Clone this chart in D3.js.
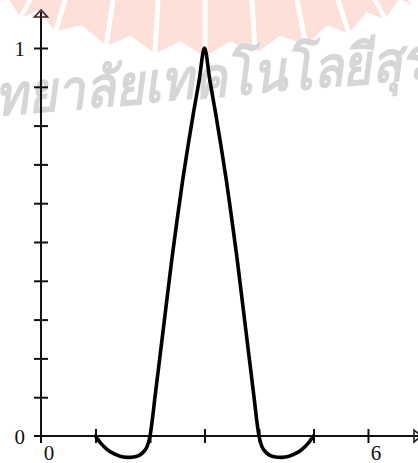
<!DOCTYPE html>
<html><head><meta charset="utf-8">
<script src="https://cdn.jsdelivr.net/npm/d3@7"></script>
<style>html,body{margin:0;padding:0;background:#fff;}svg{display:block}</style>
</head><body>
<svg id="c" width="418" height="463"></svg>
<script>
// ---- data ----
const curveX = [1.0, 1.1, 1.2, 1.3, 1.45, 1.58, 1.7, 1.8, 1.9, 1.95, 2.0,
                2.1, 2.2, 2.3, 2.4, 2.5, 2.6, 2.7, 2.8, 2.9, 3.0,
                3.1, 3.2, 3.3, 3.4, 3.5, 3.6, 3.7, 3.8, 3.9, 4.0,
                4.05, 4.1, 4.2, 4.3, 4.42, 4.55, 4.7, 4.8, 4.9, 5.0];
const curveY = [0.0, -0.019, -0.033, -0.043, -0.052, -0.055, -0.054, -0.050, -0.038, -0.026, 0.0,
                0.11, 0.225, 0.34, 0.455, 0.56, 0.66, 0.75, 0.835, 0.915, 1.0,
                0.915, 0.835, 0.75, 0.66, 0.56, 0.455, 0.34, 0.225, 0.11, 0.0,
                -0.026, -0.038, -0.050, -0.054, -0.055, -0.052, -0.043, -0.033, -0.019, 0.0];
const xTickValues = [1, 2, 3, 4, 5, 6];
const xLabelValues = [0, 6];
const xLabelTexts = ["0", "6"];
const yTickValues = [0.1, 0.2, 0.3, 0.4, 0.5, 0.6, 0.7, 0.8, 0.9, 1.0];
const yLabelValues = [0, 1];
const yLabelTexts = ["0", "1"];
const watermarkText = "ทยาลัยเทคโนโลยีสุรนารี";
// watermark ray gaps: offset from centre at top edge, slope dx/dy
const rayGapOffsets = [-210, -175, -140, -92, -47, 0, 47, 92, 133, 170, 205];
const rayGapSlopes  = [-0.8, -0.55, -0.3, -0.15, -0.06, 0, 0.06, 0.2, 0.33, 0.55, 0.8];

const svg = d3.select("#c");
const x = d3.scaleLinear().domain([0, 6]).range([41, 368]);
const y = d3.scaleLinear().domain([0, 1]).range([436, 48]);

// ---- watermark ----
const wm = svg.append("g");
const cx = 205, cy = -400, R = 455, notch = 13;
const circY = xx => cy + Math.sqrt(Math.max(0, R*R - (xx-cx)*(xx-cx)));
function edgeAt(i, off) {
  let yy = 40;
  for (let k = 0; k < 20; k++) yy = circY(cx + rayGapOffsets[i] + rayGapSlopes[i]*yy + off);
  return [cx + rayGapOffsets[i] + rayGapSlopes[i]*yy + off, yy];
}
for (let i = 0; i < rayGapOffsets.length - 1; i++) {
  const g = 2.5;
  const tl = [cx + rayGapOffsets[i] + g + rayGapSlopes[i]*(-5), -5];
  const tr = [cx + rayGapOffsets[i+1] - g + rayGapSlopes[i+1]*(-5), -5];
  const bl = edgeAt(i, g), br = edgeAt(i+1, -g);
  const mx = (bl[0]+br[0])/2;
  const mid = [mx, circY(mx) - notch];
  wm.append("path")
    .attr("d", "M" + [tl, bl, mid, br, tr].map(p => p.join(",")).join("L") + "Z")
    .attr("fill", "#fde0d9");
}
wm.append("text")
  .attr("transform", "translate(-4,116) rotate(-5) scale(0.89,1)")
  .attr("font-family", "'Noto Sans', 'DejaVu Sans', sans-serif")
  .attr("font-style", "italic")
  .attr("font-weight", "bold")
  .attr("font-size", 56)
  .attr("fill", "#d6d6d6")
  .text(watermarkText);

// ---- axes ----
const ink = "#111";
svg.append("line").attr("x1", 34).attr("x2", 418).attr("y1", y(0)).attr("y2", y(0))
  .attr("stroke", ink).attr("stroke-width", 2);
svg.append("line").attr("x1", x(0)).attr("x2", x(0)).attr("y1", 443).attr("y2", 12)
  .attr("stroke", ink).attr("stroke-width", 2);

const xAxis = svg.append("g").attr("transform", `translate(0,${y(0)})`)
  .call(d3.axisBottom(x).tickValues(xTickValues).tickSize(7).tickFormat(""));
xAxis.select(".domain").remove();
xAxis.selectAll(".tick line").attr("y1", -7).attr("y2", 7).attr("stroke", ink).attr("stroke-width", 2);

const yAxis = svg.append("g").attr("transform", `translate(${x(0)},0)`)
  .call(d3.axisLeft(y).tickValues(yTickValues).tickSize(7).tickFormat(""));
yAxis.select(".domain").remove();
yAxis.selectAll(".tick line").attr("x1", -7).attr("x2", 7).attr("stroke", ink).attr("stroke-width", 2);

// arrows
svg.append("path").attr("d", `M${x(0)},10 L${x(0)-6.5},17 L${x(0)+6.5},17 Z`)
  .attr("fill", "none").attr("stroke", "#3a2222").attr("stroke-width", 1.6);
svg.append("path").attr("d", `M414,${y(0)-6} L421,${y(0)} L414,${y(0)+6} Z`)
  .attr("fill", "none").attr("stroke", "#222").attr("stroke-width", 1.6);

// labels
const serif = "'Liberation Serif', 'Times New Roman', serif";
svg.selectAll("text.xl").data(xLabelValues).enter().append("text")
  .attr("class", "xl")
  .attr("x", d => x(d) + 8).attr("y", 460)
  .attr("text-anchor", "middle").attr("font-family", serif).attr("font-size", 21)
  .attr("fill", ink).text((d, i) => xLabelTexts[i]);
svg.selectAll("text.yl").data(yLabelValues).enter().append("text")
  .attr("class", "yl")
  .attr("x", 25).attr("y", d => y(d) + 8)
  .attr("text-anchor", "end").attr("font-family", serif).attr("font-size", 21)
  .attr("fill", ink).text((d, i) => yLabelTexts[i]);

// ---- curve ----
const pts = curveX.map((v, i) => [v, curveY[i]]);
svg.append("path").datum(pts)
  .attr("d", d3.line().x(d => x(d[0])).y(d => y(d[1])).curve(d3.curveCatmullRom))
  .attr("fill", "none").attr("stroke", "#000").attr("stroke-width", 3.6)
  .attr("stroke-linejoin", "round").attr("stroke-linecap", "round");
</script>
</body></html>
